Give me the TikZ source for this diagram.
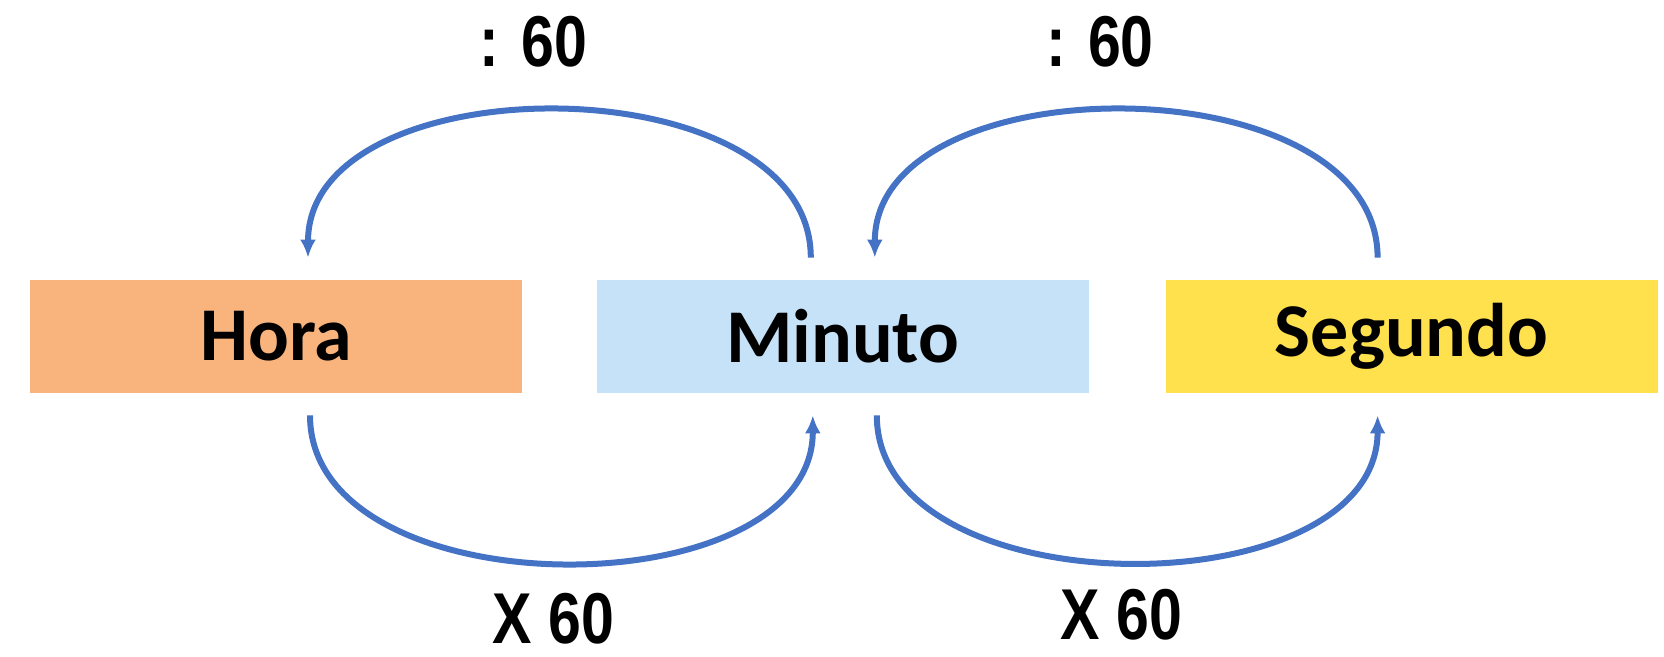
\documentclass[tikz,border=0pt]{standalone}
\usepackage{fontspec}
\setmainfont{Carlito}
\newfontfamily\narrowfont{Liberation Sans}[FakeStretch=0.82]
\usetikzlibrary{positioning}
\usetikzlibrary{arrows.meta}
\definecolor{horafill}{HTML}{F9B47D}
\definecolor{minutofill}{HTML}{C6E2F8}
\definecolor{segundofill}{HTML}{FFE14D}
\definecolor{arcblue}{HTML}{4472C4}
\tikzset{
        unitbox/.style={rectangle, inner sep=0pt, minimum width=246pt, minimum height=56.5pt, font=\fontsize{38}{44}\selectfont\bfseries},
        % Hour box
        box_hora/.style={unitbox, fill=horafill},
        % Minute box
        box_minuto/.style={unitbox, fill=minutofill},
        % Second box
        box_segundo/.style={unitbox, fill=segundofill},
        % Conversion arcs
        conv/.style={-{Latex[length=9pt,width=8pt]}, line width=3pt, arcblue},
        % Factor labels
        factor/.style={inner sep=0pt, text=black, font=\narrowfont\bfseries\fontsize{36}{40}\selectfont}
}

\begin{document}
\begin{tikzpicture}
    \useasboundingbox (0,0) rectangle (832pt,-328.5pt);
    \node[box_hora] (hora) at (138pt,-168.25pt) {Hora};
    \node[box_minuto, right=37pt of hora] (minuto) {Minuto};
    \node[box_segundo, right=38pt of minuto] (segundo) {Segundo};

    % upper arcs: divide by 60
    \draw[conv] ([xshift=-16pt,yshift=11pt]minuto.north) to[out=90,in=90]
        node[factor, above=20pt, xshift=-13pt] (div_left) {: 60}
        ([xshift=16pt,yshift=11pt]hora.north);
    \draw[conv] ([xshift=-17pt,yshift=11pt]segundo.north) to[out=90,in=90]
        node[factor, above=20pt, xshift=-13pt] (div_right) {: 60}
        ([xshift=16pt,yshift=11pt]minuto.north);

    % lower arcs: multiply by 60
    \draw[conv] ([xshift=17pt,yshift=-11pt]hora.south) to[out=-90,in=-90]
        node[factor, below=14pt, xshift=-4pt] (mul_left) {X 60}
        ([xshift=-15pt,yshift=-11pt]minuto.south);
    \draw[conv] ([xshift=17pt,yshift=-11pt]minuto.south) to[out=-90,in=-90]
        node[factor, below=12pt, xshift=-3pt] (mul_right) {X 60}
        ([xshift=-17pt,yshift=-11pt]segundo.south);
\end{tikzpicture}
\end{document}
